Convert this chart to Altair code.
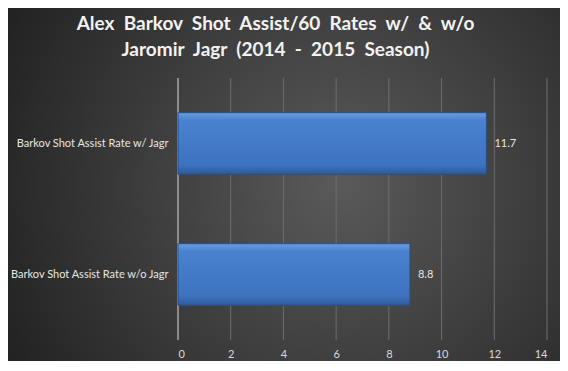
import altair as alt
import pandas as pd

categories = ["Barkov Shot Assist Rate w/ Jagr", "Barkov Shot Assist Rate w/o Jagr"]
values = [11.7, 8.8]
labels = ["11.7", "8.8"]
x_ticks = [0, 2, 4, 6, 8, 10, 12, 14]
SP = "\u00a0\u00a0"
title_lines = [SP.join(["Alex", "Barkov", "Shot", "Assist/60", "Rates", "w/", "&", "w/o"]),
               SP.join(["Jaromir", "Jagr", "(2014", "-", "2015", "Season)"])]

df = pd.DataFrame({"cat": categories, "val": values, "lab": labels})
ticks_df = pd.DataFrame({"t": x_ticks})

FONT = "Lato"

bg = alt.Chart(pd.DataFrame({"a": [0]})).mark_rect(
    clip=False,
    fill=alt.Gradient(
        gradient="radial",
        x1=0.6, y1=0.5, x2=0.6, y2=0.5, r1=0, r2=0.75,
        stops=[alt.GradientStop(offset=0, color="#5a5a5a"),
               alt.GradientStop(offset=1, color="#1c1c1c")],
    ),
).encode(
    x=alt.value(-170), x2=alt.value(382),
    y=alt.value(-70), y2=alt.value(283),
)

x_scale = alt.Scale(domain=[0, 14], nice=False)

grid = alt.Chart(ticks_df).mark_rule(color="#6e6e6e", strokeWidth=1).encode(
    x=alt.X("t:Q", scale=x_scale, title=None,
            axis=alt.Axis(values=x_ticks, grid=False, domain=False, ticks=False,
                          labelColor="#d9d9d9", labelFontSize=11, labelFont=FONT,
                          labelPadding=8, zindex=1)),
    y=alt.value(0), y2=alt.value(262),
)

zero_line = alt.Chart(pd.DataFrame({"t": [0]})).mark_rule(color="#c4c4c4", strokeWidth=1).encode(
    x=alt.X("t:Q", scale=x_scale),
    y=alt.value(0), y2=alt.value(262),
)

y_enc = alt.Y("cat:N", sort=categories, title=None,
              scale=alt.Scale(paddingInner=0.53, paddingOuter=0.265),
              axis=alt.Axis(labelColor="#e6e6e6", labelFontSize=11, labelFont=FONT,
                            labelPadding=10, ticks=False, domain=False,
                            labelLimit=200, zindex=1))

bars = alt.Chart(df).mark_bar(
    fill=alt.Gradient(
        gradient="linear", x1=0, y1=0, x2=0, y2=1,
        stops=[alt.GradientStop(offset=0, color="#6a9ee0"),
               alt.GradientStop(offset=0.12, color="#4a82d0"),
               alt.GradientStop(offset=0.85, color="#3d72bf"),
               alt.GradientStop(offset=1, color="#2e5a9a")],
    ),
    stroke="#2a4f86", strokeWidth=1,
).encode(x=alt.X("val:Q", scale=x_scale), y=y_enc)

text = alt.Chart(df).mark_text(
    align="left", dx=8, color="#e6e6e6", fontSize=11, font=FONT,
).encode(x=alt.X("val:Q", scale=x_scale), y=alt.Y("cat:N", sort=categories), text="lab:N")

chart = alt.layer(bg, grid, zero_line, bars, text).properties(
    width=369, height=262,
    padding={"left": 170, "top": 70, "right": 13, "bottom": 21},
    autosize=alt.AutoSizeParams(type="none"),
    background="#2a2a2a",
    title=alt.Title(title_lines, color="#f2f2f2", fontSize=19, font=FONT,
                    fontWeight="bold", anchor="middle", frame="group", dx=-87, dy=72,
                    offset=20, lineHeight=26, zindex=1),
).configure_view(stroke=None)

chart.save("out.html", embed_options={"renderer": "svg", "actions": False})
